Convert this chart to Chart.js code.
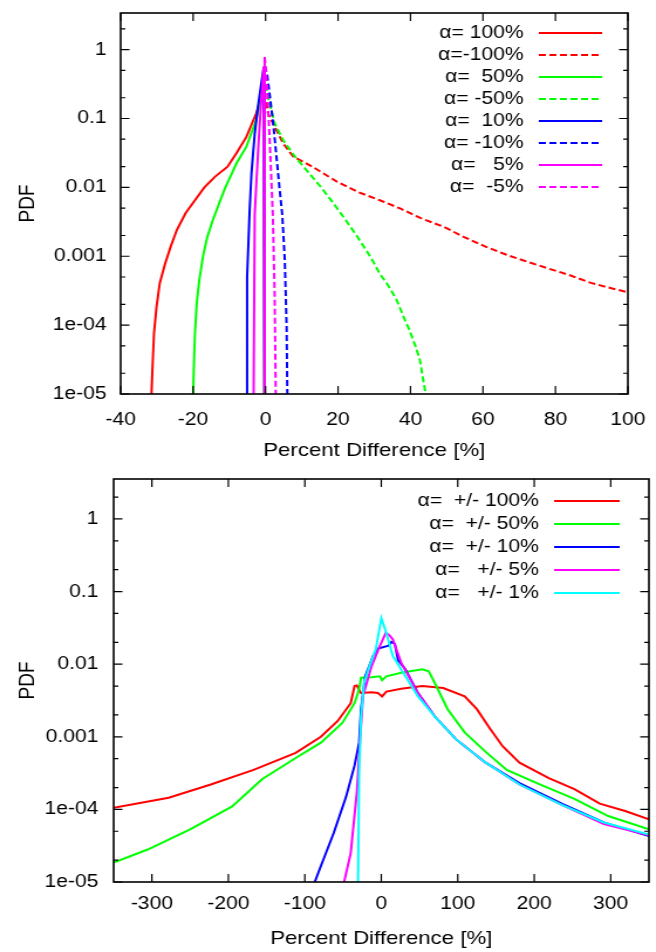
<!DOCTYPE html>
<html>
<head>
<meta charset="utf-8">
<title>PDF of percent difference</title>
<script src="https://cdn.jsdelivr.net/npm/chart.js@4.4.0/dist/chart.umd.min.js"></script>
<style>
  html, body { margin: 0; padding: 0; background: #fff; }
  /* the original plot is a little wider than tall in its lettering, so draw narrow and stretch */
  .panel { width: 560px; height: 476px; transform: scaleX(1.1714); transform-origin: 0 0; }
  canvas { display: block; }
</style>
</head>
<body>
<div class="panel"><canvas id="topChart" width="560" height="476"></canvas></div>
<div class="panel"><canvas id="bottomChart" width="560" height="476"></canvas></div>
<script>
// ==========================================
//  PDF of percent difference - two panels
// ==========================================

// ---- shared y axis (log) ----
const yTicks = [1e-5, 1e-4, 1e-3, 1e-2, 1e-1, 1];
const yTickLabels = ['1e-05', '1e-04', '0.001', '0.01', '0.1', '1'];
const yRangeTop = [1e-5, 3.4];
const yRangeBottom = [1e-5, 3.55];

// ---- top panel: one-sided alpha ----
const topXTicks = [-40, -20, 0, 20, 40, 60, 80, 100];
const topXRange = [-40, 100];
const topLabels = ['α= 100%', 'α=-100%', 'α=  50%', 'α= -50%', 'α=  10%', 'α= -10%', 'α=   5%', 'α=  -5%'];

const a100X = [-31.5, -31.2, -30.8, -30.1, -29.2, -27.7, -26.2, -24.5, -22.1, -19.8, -16.9, -14.0, -10.5, -8.1, -5.3, -2.6, -1.2, -0.3, -0.3];
const a100Y = [1e-5, 2.5e-5, 7.6e-5, 1.85e-4, 4.1e-4, 7.9e-4, 1.38e-3, 2.4e-3, 4.2e-3, 6.2e-3, 0.010, 0.0142, 0.020, 0.031, 0.054, 0.118, 0.205, 0.23, 1e-5];

const am100X = [-0.3, 0.7, 4.9, 7.6, 12.9, 19.8, 25.7, 31.5, 37.3, 43.2, 49.0, 54.8, 60.7, 66.5, 72.3, 78.2, 84.0, 89.8, 95.7, 100];
const am100Y = [0.23, 0.118, 0.043, 0.028, 0.020, 0.012, 0.0085, 0.0065, 0.0049, 0.0035, 0.0027, 0.0019, 0.00138, 0.00105, 0.00083, 0.00066, 0.00053, 0.00041, 0.00034, 0.0003];

const a50X = [-20.0, -19.8, -19.5, -19.0, -18.3, -17.3, -16.1, -14.6, -12.8, -11.1, -9.1, -8.1, -5.3, -2.6, -1.2, -0.7, -0.3, -0.3];
const a50Y = [1e-5, 2.5e-5, 7.6e-5, 2.1e-4, 4.5e-4, 9.8e-4, 1.9e-3, 3.3e-3, 5.9e-3, 0.010, 0.0168, 0.022, 0.039, 0.094, 0.205, 0.29, 0.30, 1e-5];

const am50X = [-0.3, 0.2, 2.5, 4.9, 8.1, 11.7, 15.2, 18.7, 22.2, 25.7, 29.2, 31.5, 33.8, 36.2, 38.5, 39.7, 41.4, 42.6, 43.5, 44.2];
const am50Y = [0.30, 0.26, 0.085, 0.048, 0.028, 0.0168, 0.0102, 0.0059, 0.0033, 0.0018, 9.3e-4, 5.6e-4, 3.8e-4, 2.3e-4, 1.17e-4, 8.5e-5, 4.9e-5, 3.1e-5, 1.6e-5, 1e-5];

const a10X = [-5.3, -5.1, -4.4, -3.9, -3.0, -2.1, -1.2, -0.5, -0.3, -0.3];
const a10Y = [1e-5, 5e-4, 0.0047, 0.016, 0.06, 0.147, 0.32, 0.56, 0.58, 1e-5];

const am10X = [-0.3, 0.4, 1.1, 2.1, 3.0, 3.9, 4.6, 5.3, 5.8, 6.0];
const am10Y = [0.58, 0.45, 0.23, 0.085, 0.028, 0.0091, 0.004, 8.8e-4, 9.5e-5, 1e-5];

const a5X = [-3.3, -3.0, -2.4, -1.9, -1.2, -0.5, -0.25, -0.25];
const a5Y = [1e-5, 0.004, 0.016, 0.048, 0.18, 0.56, 0.78, 1e-5];

const am5X = [-0.25, 0.03, 0.7, 1.14, 1.6, 2.0, 2.5, 2.8];
const am5Y = [0.78, 0.56, 0.147, 0.048, 0.0126, 0.004, 2.9e-4, 1e-5];

// ---- bottom panel: symmetric alpha ----
const bottomXTicks = [-300, -200, -100, 0, 100, 200, 300];
const bottomXRange = [-350, 350];
const bottomLabels = ['α=  +/- 100%', 'α=  +/- 50%', 'α=  +/- 10%', 'α=   +/- 5%', 'α=   +/- 1%'];

const pm100X = [-350, -278, -223, -167, -112, -79, -57, -40, -35, -32, -26.5, -12.7, -4.4, 1, 6.6, 26, 53.6, 81, 109, 125, 142, 158.6, 180.7, 219, 252.5, 285.6, 318.8, 350];
const pm100Y = [1.05e-4, 1.45e-4, 2.2e-4, 3.5e-4, 6e-4, 1.0e-3, 1.65e-3, 2.9e-3, 5e-3, 5.1e-3, 4.0e-3, 4.1e-3, 4.0e-3, 3.6e-3, 4.2e-3, 4.6e-3, 5.0e-3, 4.7e-3, 3.6e-3, 2.4e-3, 1.3e-3, 7.4e-4, 4.4e-4, 2.7e-4, 1.9e-4, 1.2e-4, 9.5e-5, 7.3e-5];

const pm50X = [-350, -305.5, -250, -195, -156, -112, -79, -51, -35, -29, -26.5, -12.7, -1.7, 1, 6.6, 26, 53.6, 62, 70, 86.7, 109, 136.5, 164, 208, 252.5, 296.7, 350];
const pm50Y = [1.85e-5, 2.8e-5, 5.3e-5, 1.1e-4, 2.6e-4, 5.1e-4, 8.3e-4, 1.55e-3, 2.9e-3, 4.5e-3, 6.5e-3, 6.6e-3, 6.8e-3, 6.0e-3, 6.8e-3, 7.6e-3, 8.5e-3, 8.0e-3, 5.5e-3, 2.4e-3, 1.15e-3, 6.2e-4, 3.5e-4, 2.2e-4, 1.4e-4, 8.1e-5, 5.3e-5];

const pm10X = [-87, -79, -62, -46, -35, -29, -26.5, -21, -10.7, -4.2, 9.4, 13.3, 17.7, 22, 31.5, 48, 70, 97.8, 136.5, 180.7, 236, 291, 350];
const pm10Y = [1e-5, 1.66e-5, 4.8e-5, 1.5e-4, 4e-4, 8.3e-4, 2.4e-3, 6.8e-3, 0.013, 0.0164, 0.018, 0.0203, 0.019, 0.0113, 8.5e-3, 4.0e-3, 1.9e-3, 9.2e-4, 4.4e-4, 2.3e-4, 1.2e-4, 6.6e-5, 4.3e-5];

const pm5X = [-48.6, -40, -32, -28, -24, -12.7, -1.7, 5.9, 10.5, 15, 26, 48, 70, 97.8, 136.5, 180.7, 236, 291, 350];
const pm5Y = [1e-5, 2.5e-5, 1.7e-4, 8.3e-4, 3.6e-3, 9.4e-3, 0.018, 0.027, 0.025, 0.022, 0.0105, 4.0e-3, 1.9e-3, 9.2e-4, 4.4e-4, 2.2e-4, 1.15e-4, 6.3e-5, 4.4e-5];

const pm1X = [-30.4, -29, -26.5, -22.6, -15.5, -7.2, 0, 6.6, 15, 31.5, 48, 70, 97.8, 136.5, 180.7, 236, 291, 350];
const pm1Y = [1e-5, 2.9e-4, 1.9e-3, 5.5e-3, 9.4e-3, 0.016, 0.043, 0.027, 0.013, 6.8e-3, 3.6e-3, 1.9e-3, 9.2e-4, 4.4e-4, 2.2e-4, 1.15e-4, 6.6e-5, 4.5e-5];

// ---- styles ----
const RED = '#ff0000', GREEN = '#00ff00', BLUE = '#0000ff', MAGENTA = '#ff00ff', CYAN = '#00ffff';
const FONT = '"Liberation Sans", Arial, Helvetica, sans-serif';
const DASH = [6, 3];

const pts = (xs, ys) => xs.map((x, i) => ({ x: x, y: ys[i] }));

// gnuplot-like frame: border, inward ticks on all four sides (2 and 5 minor ticks on log y), key inside
const gnuplotFrame = {
    id: 'gnuplotFrame',
    afterDatasetsDraw(chart, args, opts) {
        const ctx = chart.ctx;
        const a = chart.chartArea;
        const xs = chart.scales.x;
        const ys = chart.scales.y;

        ctx.save();
        ctx.strokeStyle = '#000';
        ctx.lineWidth = 1.2;
        ctx.beginPath();

        opts.xTicks.forEach(v => {
            const px = xs.getPixelForValue(v);
            ctx.moveTo(px, a.bottom); ctx.lineTo(px, a.bottom - opts.xTickLen);
            ctx.moveTo(px, a.top); ctx.lineTo(px, a.top + opts.xTickLen);
        });

        yTicks.forEach(d => {
            [1, 2, 5].forEach(m => {
                const v = d * m;
                if (v < ys.min || v > ys.max) return;
                const py = ys.getPixelForValue(v);
                const len = m === 1 ? opts.yMajorLen : opts.yMinorLen;
                ctx.moveTo(a.left, py); ctx.lineTo(a.left + len, py);
                ctx.moveTo(a.right, py); ctx.lineTo(a.right - len, py);
            });
        });
        ctx.stroke();

        ctx.lineWidth = 1.6;
        ctx.strokeRect(a.left, a.top, a.right - a.left, a.bottom - a.top);

        // key
        ctx.font = opts.keyFont + 'px ' + FONT;
        ctx.textAlign = 'right';
        ctx.textBaseline = 'middle';
        chart.data.datasets.forEach((ds, i) => {
            const yy = opts.keyTop + i * opts.keyStep;
            ctx.fillStyle = '#000';
            ctx.fillText(ds.label, opts.keyTextRight, yy);
            ctx.strokeStyle = ds.borderColor;
            ctx.lineWidth = ds.borderWidth;
            ctx.setLineDash(ds.borderDash || []);
            ctx.beginPath();
            ctx.moveTo(opts.keyLineStart, yy);
            ctx.lineTo(opts.keyLineEnd, yy);
            ctx.stroke();
        });
        ctx.setLineDash([]);
        ctx.restore();
    }
};

function makeDataset(label, data, color, dashed, n, i) {
    return {
        label: label,
        data: data,
        borderColor: color,
        backgroundColor: color,
        borderWidth: 2,
        borderDash: dashed ? DASH : [],
        pointRadius: 0,
        showLine: true,
        fill: false,
        tension: 0,
        order: n - i   // later series on top, as gnuplot draws them
    };
}

function makeChart(id, datasets, xRange, xTicks, yRange, box, key) {
    return new Chart(document.getElementById(id), {
        type: 'scatter',
        data: { datasets: datasets },
        options: {
            responsive: false,
            animation: false,
            devicePixelRatio: 1,
            layout: { padding: { top: box.top, right: box.right, left: 0, bottom: 0 } },
            plugins: {
                legend: { display: false },
                tooltip: { enabled: false },
                gnuplotFrame: Object.assign({ xTicks: xTicks, xTickLen: 8, yMajorLen: 7.5, yMinorLen: 4 }, key)
            },
            scales: {
                x: {
                    type: 'linear',
                    min: xRange[0],
                    max: xRange[1],
                    grid: { display: false, drawTicks: false },
                    border: { display: false },
                    afterBuildTicks: s => { s.ticks = xTicks.map(v => ({ value: v })); },
                    afterFit: s => {
                        s.height = box.xHeight;
                        s.paddingLeft = 0;
                        s.paddingRight = 0;
                    },
                    ticks: {
                        color: '#000',
                        padding: box.xPad,
                        maxRotation: 0,
                        font: { family: FONT, size: 18 },
                        callback: v => String(v)
                    },
                    title: {
                        display: true,
                        text: 'Percent Difference [%]',
                        color: '#000',
                        font: { family: FONT, size: 19 },
                        padding: { top: 0, bottom: box.xTitlePad }
                    }
                },
                y: {
                    type: 'logarithmic',
                    min: yRange[0],
                    max: yRange[1],
                    grid: { display: false, drawTicks: false },
                    border: { display: false },
                    afterBuildTicks: s => { s.ticks = yTicks.map(v => ({ value: v })); },
                    afterFit: s => {
                        s.width = box.yWidth;
                        s.paddingTop = 0;
                        s.paddingBottom = 0;
                    },
                    ticks: {
                        color: '#000',
                        padding: box.yPad,
                        font: { family: FONT, size: 18 },
                        callback: (v, i) => yTickLabels[i]
                    },
                    title: {
                        display: true,
                        text: 'PDF',
                        color: '#000',
                        font: { family: FONT, size: 19 },
                        padding: { top: 12, bottom: 0 }
                    }
                }
            }
        },
        plugins: [gnuplotFrame]
    });
}

// ---- top panel ----
const topSeries = [
    [a100X, a100Y, RED, false],
    [am100X, am100Y, RED, true],
    [a50X, a50Y, GREEN, false],
    [am50X, am50Y, GREEN, true],
    [a10X, a10Y, BLUE, false],
    [am10X, am10Y, BLUE, true],
    [a5X, a5Y, MAGENTA, false],
    [am5X, am5Y, MAGENTA, true]
];
const topDatasets = topSeries.map((s, i) =>
    makeDataset(topLabels[i], pts(s[0], s[1]), s[2], s[3], topSeries.length, i));

makeChart('topChart', topDatasets, topXRange, topXTicks, yRangeTop,
    { top: 13, right: 24, yWidth: 103, xHeight: 82, xPad: 15, yPad: 12, xTitlePad: 14 },
    { keyFont: 18, keyTop: 33, keyStep: 22, keyTextRight: 447, keyLineStart: 460, keyLineEnd: 514 });

// ---- bottom panel ----
const bottomSeries = [
    [pm100X, pm100Y, RED],
    [pm50X, pm50Y, GREEN],
    [pm10X, pm10Y, BLUE],
    [pm5X, pm5Y, MAGENTA],
    [pm1X, pm1Y, CYAN]
];
const bottomDatasets = bottomSeries.map((s, i) =>
    makeDataset(bottomLabels[i], pts(s[0], s[1]), s[2], false, bottomSeries.length, i));

makeChart('bottomChart', bottomDatasets, bottomXRange, bottomXTicks, yRangeBottom,
    { top: 3, right: 6, yWidth: 97, xHeight: 70, xPad: 11, yPad: 13, xTitlePad: 2 },
    { keyFont: 18, keyTop: 25, keyStep: 23, keyTextRight: 460, keyLineStart: 473, keyLineEnd: 529 });
</script>
</body>
</html>
